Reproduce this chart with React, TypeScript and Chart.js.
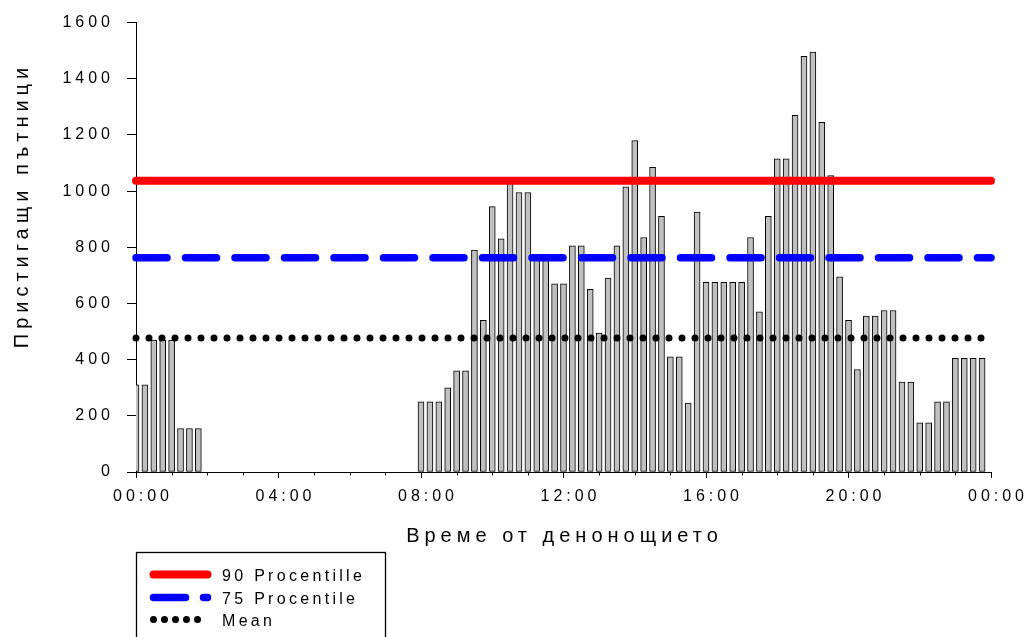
import React, { useEffect, useRef } from 'react';
import { Chart, registerables } from 'chart.js';

Chart.register(...registerables);

// Arrivals per 15-minute slot, starting at 00:00
const arrivals = [
  310, 310, 470, 470, 470, 155, 155, 155,
  0, 0, 0, 0, 0, 0, 0, 0, 0, 0, 0, 0,
  0, 0, 0, 0, 0, 0, 0, 0, 0, 0, 0, 0,
  250, 250, 250, 300, 360, 360, 790, 540,
  945, 830, 1030, 995, 995, 760, 760, 670,
  670, 805, 805, 650, 495, 690, 805, 1015,
  1180, 835, 1085, 910, 410, 410, 245, 925,
  675, 675, 675, 675, 675, 835, 570, 910,
  1115, 1115, 1270, 1480, 1495, 1245, 1055, 695,
  540, 365, 555, 555, 575, 575, 320, 320,
  175, 175, 250, 250, 405, 405, 405, 405,
];
const slotHours = 0.25;

const xTickLabels = ['00:00', '04:00', '08:00', '12:00', '16:00', '20:00', '00:00'];
const yMax = 1600;
const yStep = 200;

const seriesNames = ['90 Procentille', '75 Procentile', 'Mean'];
const seriesValues = [1037, 763, 477];
const seriesColors = ['#ff0000', '#0000ff', '#000000'];

const xTitle = 'Време от денонощието';
const yTitle = 'Пристигащи пътници';

const FONT = '"Liberation Sans", Arial, Helvetica, sans-serif';

const lineStyles = [
  { width: 8, dash: [] as number[], legendDash: [] as number[] },
  { width: 7.5, dash: [31, 18.5], legendDash: [32, 18] },
  { width: 7, dash: [0, 13], legendDash: [0, 11] },
];

const decorPlugin = {
  id: 'decor',
  beforeDraw(chart: any) {
    chart.ctx.letterSpacing = '4px';
  },
  afterDraw(chart: any) {
    const { ctx, chartArea, scales } = chart;
    const xs = scales.x;
    ctx.save();
    // minor hourly ticks
    ctx.strokeStyle = '#000';
    ctx.lineWidth = 1;
    for (let h = 1; h < 24; h++) {
      if (h % 4 === 0) continue;
      const px = Math.round(xs.getPixelForValue(h)) + 0.5;
      ctx.beginPath();
      ctx.moveTo(px, chartArea.bottom);
      ctx.lineTo(px, chartArea.bottom + 3.5);
      ctx.stroke();
    }
    // axis titles
    ctx.fillStyle = '#000';
    ctx.font = `20px ${FONT}`;
    ctx.letterSpacing = '5px';
    ctx.textAlign = 'center';
    ctx.textBaseline = 'alphabetic';
    ctx.fillText(xTitle, (chartArea.left + chartArea.right) / 2 + 1, 542);
    ctx.save();
    ctx.translate(28, 208);
    ctx.rotate(-Math.PI / 2);
    ctx.fillText(yTitle, 2.5, 0);
    ctx.restore();

    // legend box
    ctx.letterSpacing = '0px';
    ctx.strokeStyle = '#000';
    ctx.lineWidth = 1.3;
    ctx.strokeRect(136.5, 552.5, 249, 140);
    const rowY = [574.5, 597.5, 619.5];
    for (let i = 0; i < seriesNames.length; i++) {
      ctx.save();
      ctx.strokeStyle = seriesColors[i];
      ctx.lineWidth = lineStyles[i].width;
      ctx.lineCap = 'round';
      ctx.setLineDash(lineStyles[i].legendDash);
      ctx.beginPath();
      ctx.moveTo(153.5, rowY[i]);
      ctx.lineTo(207.5, rowY[i]);
      ctx.stroke();
      ctx.restore();
      ctx.fillStyle = '#000';
      ctx.font = `16px ${FONT}`;
      ctx.letterSpacing = '3.3px';
      ctx.textAlign = 'left';
      ctx.textBaseline = 'alphabetic';
      ctx.fillText(seriesNames[i], 222, rowY[i] + 6);
    }
    ctx.restore();
  },
};

export default function App() {
  const canvasRef = useRef<HTMLCanvasElement | null>(null);

  useEffect(() => {
    const canvas = canvasRef.current;
    if (!canvas) return;

    const lineDatasets = seriesNames.map((name, i) => ({
      type: 'line' as const,
      label: name,
      data: [
        { x: 0, y: seriesValues[i] },
        { x: 24, y: seriesValues[i] },
      ],
      borderColor: seriesColors[i],
      backgroundColor: seriesColors[i],
      borderWidth: lineStyles[i].width,
      borderDash: lineStyles[i].dash,
      borderCapStyle: 'round' as const,
      pointRadius: 0,
      fill: false,
      clip: false as any,
      order: 1 + i,
    }));

    const chart = new Chart(canvas, {
      type: 'bar',
      data: {
        datasets: [
          ...lineDatasets,
          {
            type: 'bar' as const,
            label: 'Arrivals',
            data: arrivals.map((v, i) => ({ x: i * slotHours, y: v })),
            backgroundColor: '#c0c0c0',
            borderColor: '#000000',
            borderWidth: 1,
            borderSkipped: false,
            barThickness: 6,
            clip: 0 as any,
            order: 10,
          },
        ] as any,
      },
      options: {
        responsive: false,
        animation: false,
        events: [],
        layout: { padding: { top: 21, right: 34, left: 0, bottom: 0 } },
        plugins: { legend: { display: false }, tooltip: { enabled: false } },
        scales: {
          x: {
            type: 'linear',
            position: 'bottom',
            min: 0,
            max: 24,
            offset: false,
            ticks: {
              stepSize: 4,
              autoSkip: false,
              maxRotation: 0,
              color: '#000',
              font: { family: FONT, size: 16 },
              padding: 9,
              labelOffset: 7,
              callback: (v: any) => {
                const idx = Math.round(Number(v) / 4);
                return xTickLabels[idx] ?? '';
              },
            },
            grid: {
              offset: false,
              drawOnChartArea: false,
              tickLength: 6,
              tickColor: '#000',
              tickWidth: 1,
            },
            border: { color: '#000', width: 1 },
            afterFit: (s: any) => {
              s.height = 637 - 472;
            },
          },
          y: {
            type: 'linear',
            min: 0,
            max: yMax,
            ticks: {
              stepSize: yStep,
              color: '#000',
              font: { family: FONT, size: 16 },
              padding: 13,
              callback: (v: any) => String(v),
            },
            grid: {
              drawOnChartArea: false,
              tickLength: 9,
              tickColor: '#000',
              tickWidth: 1,
            },
            border: { color: '#000', width: 1 },
            afterFit: (s: any) => {
              s.width = 136;
            },
          },
        },
      } as any,
      plugins: [decorPlugin],
    });

    return () => chart.destroy();
  }, []);

  return (
    <div style={{ position: 'fixed', left: 0, top: 0, width: 1025, height: 637, background: '#fff' }}>
      <canvas ref={canvasRef} width={1025} height={637} style={{ display: 'block' }} />
    </div>
  );
}
